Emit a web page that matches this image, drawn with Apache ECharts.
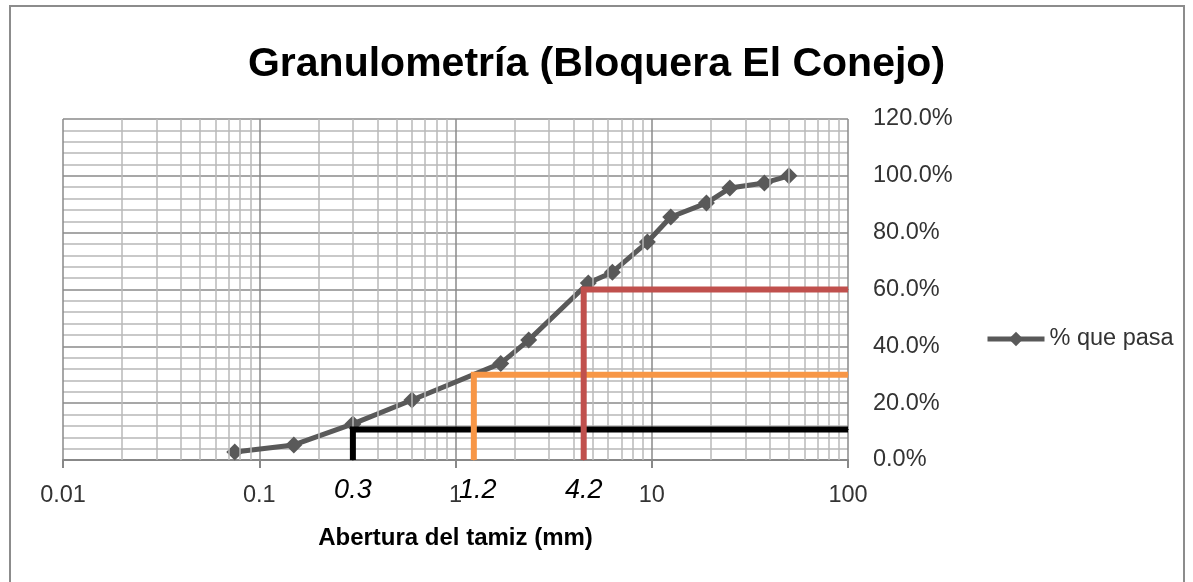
<!DOCTYPE html>
<html>
<head>
<meta charset="utf-8">
<script src="https://cdn.jsdelivr.net/npm/echarts@6/dist/echarts.min.js"></script>
<style>
  html, body { margin: 0; padding: 0; background: #fff; }
  #chart { width: 1193px; height: 582px; }
</style>
</head>
<body>
<div id="chart"></div>
<script>
// abertura del tamiz (mm) y % que pasa
const sizes = [0.075, 0.15, 0.3, 0.6, 1.7, 2.36, 4.75, 6.3, 9.5, 12.5, 19, 25, 37.5, 50];
const pasa = [2.8, 5.3, 12.7, 21.1, 34.0, 42.2, 62.3, 66.1, 76.7, 85.5, 90.4, 95.7, 97.5, 100.0];

// D10, D30, D60 (lineas de lectura)
const dLabels = ['0.3', '1.2', '4.2'];
const dX = [0.3, 1.24, 4.5];
const dY = [10.7, 30, 60];
const dColors = ['#000000', '#f79646', '#c0504d'];

const decades = [0.01, 0.1, 1, 10, 100];
const yTicks = [0, 20, 40, 60, 80, 100, 120];

const FONT = 'Liberation Sans';

// lineas menores del eje logaritmico (2..9 de cada decada)
const minorX = [];
decades.slice(0, -1).forEach(d => {
  for (let k = 2; k <= 9; k++) minorX.push(+(k * d).toPrecision(3));
});

const chart = echarts.init(document.getElementById('chart'));

const refSeries = dX.map((x, i) => ({
  name: 'D' + i,
  type: 'line',
  z: 5,
  clip: false,
  symbol: 'rect',
  symbolSize: 1,
  showAllSymbol: true,
  silent: true,
  itemStyle: { color: dColors[i] },
  lineStyle: { color: dColors[i], width: 6, cap: 'butt', join: 'miter' },
  label: { show: false },
  data: [
    {
      value: [x, 0],
      label: {
        show: true,
        position: 'bottom',
        distance: 16,
        offset: [i === 1 ? 4 : 0, 0],
        formatter: dLabels[i],
        fontFamily: FONT,
        fontStyle: 'italic',
        fontSize: 27,
        color: '#000'
      }
    },
    [x, dY[i]],
    [decades[decades.length - 1], dY[i]]
  ]
}));

const option = {
  animation: false,
  textStyle: { fontFamily: FONT },
  graphic: [{
    type: 'rect',
    shape: { x: 10, y: 6, width: 1174, height: 620 },
    style: { fill: null, stroke: '#8c8c8c', lineWidth: 2 },
    silent: true
  }],
  title: {
    text: 'Granulometría (Bloquera El Conejo)',
    left: 'center',
    top: 39,
    textStyle: { fontFamily: FONT, fontSize: 41, fontWeight: 'bold', color: '#000' }
  },
  legend: {
    data: ['% que pasa'],
    left: 980,
    top: 322,
    itemWidth: 57,
    itemHeight: 18,
    itemStyle: { color: '#595959' },
    lineStyle: { color: '#595959', width: 5 },
    textStyle: { fontFamily: FONT, fontSize: 23.5, color: '#333' }
  },
  grid: { left: 63, right: 345, top: 119, bottom: 122 },
  xAxis: {
    type: 'log',
    logBase: 10,
    min: decades[0],
    max: decades[decades.length - 1],
    name: 'Abertura del tamiz (mm)',
    nameLocation: 'middle',
    nameGap: 66,
    nameTextStyle: { fontFamily: FONT, fontSize: 24, fontWeight: 'bold', color: '#000' },
    axisLine: { lineStyle: { color: '#888', width: 2 } },
    axisTick: { show: true, length: 8, lineStyle: { color: '#888', width: 2 } },
    axisLabel: { margin: 24, fontFamily: FONT, fontSize: 23.5, color: '#333' },
    splitLine: { show: true, lineStyle: { color: '#8a8a8a', width: 1.5 } }
  },
  yAxis: {
    type: 'value',
    position: 'right',
    min: yTicks[0],
    max: yTicks[yTicks.length - 1],
    interval: 20,
    axisLine: { show: false },
    axisTick: { show: false },
    axisLabel: {
      margin: 25,
      fontFamily: FONT,
      fontSize: 23.5,
      color: '#333',
      formatter: v => v.toFixed(1) + '%'
    },
    splitLine: { show: true, lineStyle: { color: '#8a8a8a', width: 1.5 } },
    minorTick: { show: false, splitNumber: 5 },
    minorSplitLine: { show: true, lineStyle: { color: '#b8b8b8', width: 1.5 } }
  },
  series: [
    {
      name: 'grid-minor',
      type: 'line',
      data: [],
      silent: true,
      z: 1,
      markLine: {
        silent: true,
        symbol: 'none',
        animation: false,
        label: { show: false },
        lineStyle: { color: '#b8b8b8', width: 1.5, type: 'solid' },
        data: minorX.map(v => ({ xAxis: v }))
      }
    },
    {
      name: '% que pasa',
      type: 'line',
      z: 4,
      symbol: 'diamond',
      symbolSize: 17,
      showAllSymbol: true,
      itemStyle: { color: '#595959' },
      lineStyle: { color: '#595959', width: 5 },
      data: sizes.map((s, i) => [s, pasa[i]])
    },
    ...refSeries
  ]
};

chart.setOption(option);
</script>
</body>
</html>
